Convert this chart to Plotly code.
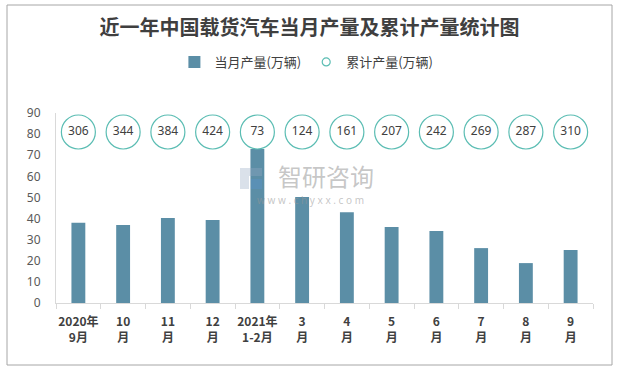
import plotly.graph_objects as go

# ---- data ----
categories = ["2020年<br>9月", "10<br>月", "11<br>月", "12<br>月", "2021年<br>1-2月", "3<br>月",
              "4<br>月", "5<br>月", "6<br>月", "7<br>月", "8<br>月", "9<br>月"]
monthly_output = [38, 37, 40.3, 39.3, 73, 50.2, 43, 36, 34.1, 26, 18.9, 25.1]
cumulative_output = [306, 344, 384, 424, 73, 124, 161, 207, 242, 269, 287, 310]
y_ticks = [0, 10, 20, 30, 40, 50, 60, 70, 80, 90]

# ---- layout constants ----
W, H = 619, 370
L, R, T, B = 56, 26, 113, 67
PW, PH = W - L - R, H - T - B
CIRCLE_Y = 81
BAR_COLOR = "#5B8EA6"
CIRCLE_COLOR = "#5BBDB3"


def px_x(x):
    return (x - L) / PW


def px_y(y):
    return (H - B - y) / PH


fig = go.Figure()

fig.add_trace(go.Bar(
    x=categories, y=monthly_output, name="当月产量(万辆)",
    marker=dict(color=BAR_COLOR, line=dict(width=0)),
    hoverinfo="x+y",
))

fig.add_trace(go.Scatter(
    x=categories, y=[CIRCLE_Y] * len(categories), mode="markers+text",
    text=[str(v) for v in cumulative_output], textposition="middle center",
    textfont=dict(size=12, color="#404040", family="Noto Sans"),
    marker=dict(symbol="circle", size=34, color="rgba(255,255,255,1)",
                line=dict(color=CIRCLE_COLOR, width=1.2)),
    showlegend=False, name="累计产量(万辆)",
))

# legend-only entry with a small open circle
fig.add_trace(go.Scatter(
    x=[categories[0]], y=[None], mode="markers", name="累计产量(万辆)",
    marker=dict(symbol="circle-open", size=8, color=CIRCLE_COLOR, line=dict(width=1.2)),
))

shapes = [
    # outer frame
    dict(type="rect", xref="paper", yref="paper",
         x0=px_x(7), x1=px_x(612), y0=px_y(5), y1=px_y(365),
         line=dict(color="#A6A6A6", width=1), fillcolor="rgba(0,0,0,0)", layer="below"),
    # watermark logo (approximation)
    dict(type="rect", xref="paper", yref="paper",
         x0=px_x(240), x1=px_x(262), y0=px_y(168), y1=px_y(176),
         line=dict(width=0), fillcolor="rgba(150,170,195,0.35)", layer="above"),
    dict(type="rect", xref="paper", yref="paper",
         x0=px_x(240), x1=px_x(249), y0=px_y(176), y1=px_y(189),
         line=dict(width=0), fillcolor="rgba(150,170,195,0.35)", layer="above"),
    dict(type="rect", xref="paper", yref="paper",
         x0=px_x(251), x1=px_x(262), y0=px_y(179), y1=px_y(189),
         line=dict(width=0), fillcolor="rgba(90,150,210,0.35)", layer="above"),
]

annotations = [
    dict(text="智研咨询", xref="paper", yref="paper", x=px_x(326), y=px_y(175),
         showarrow=False, xanchor="center", yanchor="middle",
         font=dict(size=24, color="rgba(150,150,150,0.55)", family="Noto Sans CJK SC")),
    dict(text="w w w . c h y x x . c o m", xref="paper", yref="paper", x=px_x(310), y=px_y(200),
         showarrow=False, xanchor="center", yanchor="middle",
         font=dict(size=10, color="rgba(150,150,150,0.55)", family="Noto Sans")),
]

fig.update_layout(
    width=W, height=H,
    margin=dict(l=L, r=R, t=T, b=B, autoexpand=False),
    paper_bgcolor="white", plot_bgcolor="white",
    title=dict(text="<b>近一年中国载货汽车当月产量及累计产量统计图</b>",
               x=0.5, xref="container", xanchor="center",
               y=1 - 28 / H, yref="container", yanchor="middle",
               font=dict(size=20, color="#3F3F3F", family="Noto Sans CJK SC")),
    legend=dict(orientation="h", xref="container", yref="container",
                x=0.495, xanchor="center", y=1 - 62 / H, yanchor="middle",
                font=dict(size=13, color="#404040", family="Noto Sans CJK SC"),
                itemwidth=30, bgcolor="rgba(0,0,0,0)"),
    bargap=0.69,
    showlegend=True,
    shapes=shapes,
    annotations=annotations,
    xaxis=dict(
        type="category", range=[-0.5, len(categories) - 0.5],
        showgrid=False, zeroline=False,
        showline=True, linecolor="#D9D9D9", linewidth=1,
        ticks="outside", tickson="boundaries", ticklen=5, tickcolor="#D9D9D9",
        ticklabelstandoff=8,
        tickfont=dict(size=12, color="#404040", family="Noto Sans CJK SC", weight="bold"),
        tickangle=0,
    ),
    yaxis=dict(
        range=[0, 90], tickvals=y_ticks, showgrid=False, zeroline=False,
        showline=True, linecolor="#D9D9D9", linewidth=1,
        ticks="", ticklabelstandoff=12,
        tickfont=dict(size=12, color="#595959", family="Noto Sans"),
    ),
)

fig.write_html("out.html", config={"displayModeBar": False},
               post_script="document.body.style.margin='0px';document.body.style.padding='0px';")
